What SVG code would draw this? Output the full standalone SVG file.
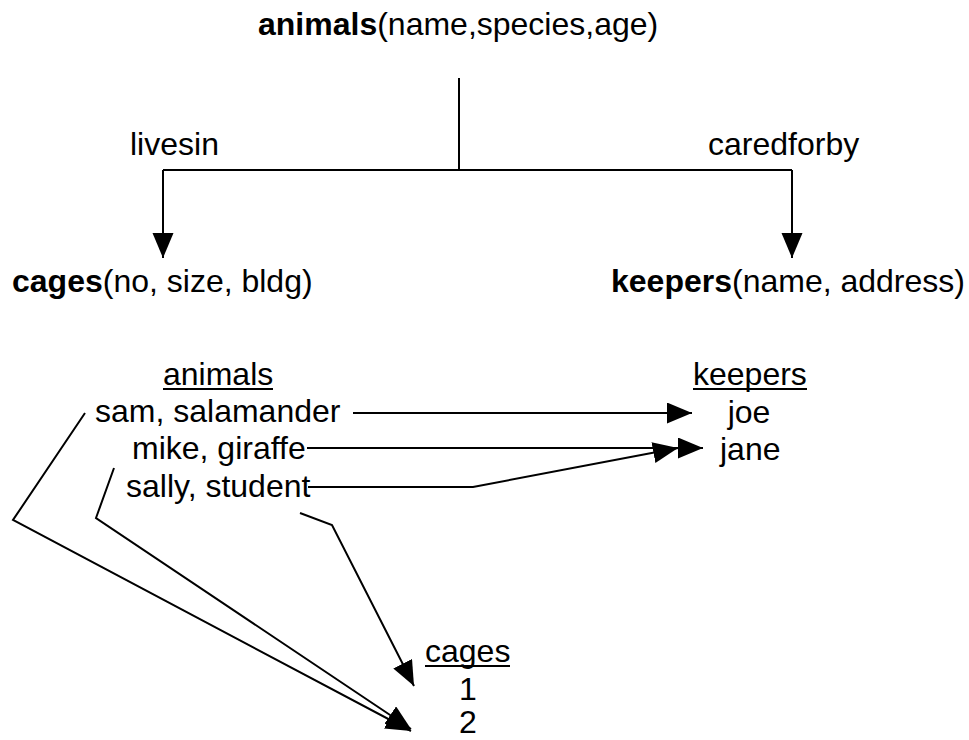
<svg xmlns="http://www.w3.org/2000/svg" width="969" height="740" viewBox="0 0 969 740">
<style>
text{font-family:"Liberation Sans",Arial,Helvetica,sans-serif;font-size:32px;fill:#000}
.b{font-weight:bold}
.ln{fill:none;stroke:#000;stroke-width:2}
.ul{stroke:#000;stroke-width:2}
</style>
<defs>
<marker id="ah" markerUnits="userSpaceOnUse" markerWidth="26" markerHeight="22" refX="25" refY="10.5" orient="auto">
<path d="M0,0 L25,10.5 L0,21 z" fill="#000"/>
</marker>
</defs>
<rect width="969" height="740" fill="#fff"/>
<g id="animals-schema"><text x="258" y="35"><tspan class="b">animals</tspan>(name,species,age)</text></g>
<g id="cages-schema"><text x="12" y="292"><tspan class="b">cages</tspan>(no, size, bldg)</text></g>
<g id="keepers-schema"><text x="611" y="292"><tspan class="b">keepers</tspan>(name, address)</text></g>
<g id="label-livesin"><text x="130" y="155">livesin</text></g>
<g id="label-caredforby"><text x="708" y="155">caredforby</text></g>
<g id="animals-table">
<text x="163" y="385">animals</text><line class="ul" x1="163" y1="389" x2="273" y2="389"/>
<text x="95" y="422">sam, salamander</text>
<text x="132" y="459">mike, giraffe</text>
<text x="126" y="497">sally, student</text>
</g>
<g id="keepers-table">
<text x="693" y="385">keepers</text><line class="ul" x1="693" y1="389" x2="807" y2="389"/>
<text x="749" y="423" text-anchor="middle">joe</text>
<text x="720" y="460">jane</text>
</g>
<g id="cages-table">
<text x="425" y="662">cages</text><line class="ul" x1="425" y1="666" x2="510" y2="666"/>
<text x="468" y="700" text-anchor="middle">1</text>
<text x="468" y="733" text-anchor="middle">2</text>
</g>
<g id="connectors">
<line class="ln" x1="459" y1="78" x2="459" y2="170"/>
<line class="ln" x1="163" y1="170" x2="792" y2="170"/>
<line class="ln" x1="163" y1="170" x2="163" y2="258" marker-end="url(#ah)"/>
<line class="ln" x1="792" y1="170" x2="792" y2="258" marker-end="url(#ah)"/>
<line class="ln" x1="353" y1="413" x2="692" y2="413" marker-end="url(#ah)"/>
<line class="ln" x1="307" y1="448" x2="703" y2="448" marker-end="url(#ah)"/>
<polyline class="ln" points="308,487 473,487 678,448" marker-end="url(#ah)"/>
<polyline class="ln" points="85,413 13,520 411,731" marker-end="url(#ah)"/>
<polyline class="ln" points="114,468 96,518 411,729" marker-end="url(#ah)"/>
<polyline class="ln" points="300,513 332,525 414,686" marker-end="url(#ah)"/>
</g>
</svg>
